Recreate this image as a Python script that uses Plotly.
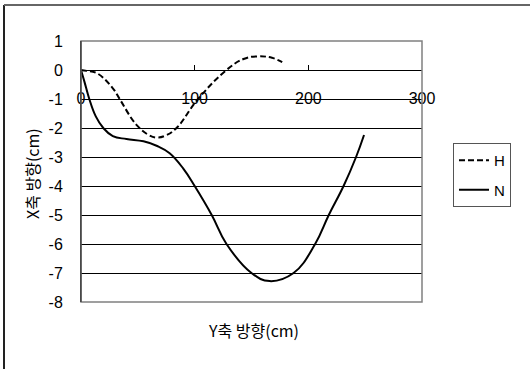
import plotly.graph_objects as go

# Lateral displacement profiles (cm)
h_y = [0, 5, 14, 28, 34, 49, 60, 67, 75, 84, 103, 128, 143, 155, 168, 177]
h_x = [0, -0.03, -0.11, -0.63, -1.0, -1.9, -2.25, -2.33, -2.25, -2.0, -1.0, 0.0, 0.38, 0.47, 0.42, 0.27]

n_y = [0, 3, 7.3, 13, 19.6, 28, 40, 55, 67, 78, 90, 100, 115, 128, 150, 166, 187, 206, 218, 231, 242, 249]
n_x = [0, -0.4, -1.0, -1.6, -2.0, -2.28, -2.38, -2.46, -2.62, -2.87, -3.4, -4.0, -5.0, -6.0, -7.0, -7.28,
       -7.0, -6.0, -5.0, -4.0, -3.0, -2.24]

x_ticks = [0, 100, 200, 300]
y_ticks = [1, 0, -1, -2, -3, -4, -5, -6, -7, -8]

W, H = 530, 369
ML, MR, MT, MB = 81, 108, 41, 67
pw = W - ML - MR
ph = H - MT - MB

tick_font = dict(family="Liberation Sans, Arial, sans-serif", size=16, color="black")
kr_font = dict(family="Noto Sans CJK KR, sans-serif", size=16, color="black")

fig = go.Figure()
fig.add_trace(go.Scatter(x=h_y, y=h_x, mode="lines", name="H", legendgroup="h",
                         line=dict(color="black", width=2, dash="6px,3px", shape="spline", smoothing=1.2)))
fig.add_trace(go.Scatter(x=n_y, y=n_x, mode="lines", name="N", legendgroup="n",
                         line=dict(color="black", width=2, shape="spline", smoothing=1.2)))

ymin, ymax = -8, 1
fig.update_layout(
    width=W, height=H,
    margin=dict(l=ML, r=MR, t=MT, b=MB, autoexpand=False),
    paper_bgcolor="white", plot_bgcolor="white",
    showlegend=True,
    legend=dict(x=(453 - ML) / pw, y=(H - MB - 143) / ph, xanchor="left", yanchor="top",
                bordercolor="#555555", borderwidth=1, bgcolor="white",
                font=dict(family="Liberation Sans, Arial, sans-serif", size=15, color="black"),
                traceorder="grouped", tracegroupgap=7),
    xaxis=dict(range=[0, 300], tickvals=x_ticks, ticktext=[str(v) for v in x_ticks],
               anchor="free", position=(0 - ymin) / (ymax - ymin), side="bottom",
               showline=True, linecolor="black", linewidth=1,
               ticks="inside", ticklen=5, tickcolor="black",
               ticklabelstandoff=14, tickfont=tick_font,
               showgrid=False, zeroline=False, fixedrange=True),
    yaxis=dict(range=[ymin, ymax], tickvals=y_ticks, ticktext=[str(v) for v in y_ticks],
               showline=True, linecolor="black", linewidth=1,
               ticks="", ticklabelstandoff=14, tickfont=tick_font,
               showgrid=True, gridcolor="black", gridwidth=1,
               zeroline=True, zerolinecolor="black", zerolinewidth=1, fixedrange=True),
)

# plot-area frame
fig.add_shape(type="rect", xref="paper", yref="paper", x0=0, x1=1, y0=0, y1=1,
              line=dict(color="#808080", width=1.5), layer="above")
fig.add_shape(type="line", xref="paper", yref="paper", x0=0, x1=0, y0=0, y1=1,
              line=dict(color="#333333", width=1), layer="above")

# chart border (top and left edges)
fx0 = (4 - ML) / pw
fy_top = 1 + (MT - 5) / ph
fig.add_shape(type="line", xref="paper", yref="paper", x0=fx0, x1=fx0, y0=-MB / ph - 0.05, y1=fy_top,
              line=dict(color="#222222", width=2), layer="above")
fig.add_shape(type="line", xref="paper", yref="paper", x0=fx0, x1=1 + MR / pw + 0.05, y0=fy_top, y1=fy_top,
              line=dict(color="#666666", width=2), layer="above")

# axis titles
fig.add_annotation(text="Y축 방향(cm)", xref="paper", yref="paper",
                   x=(253 - ML) / pw, y=-(330 - (H - MB)) / ph, xanchor="center", yanchor="middle",
                   showarrow=False, font=kr_font)
fig.add_annotation(text="X축 방향(cm)", xref="paper", yref="paper",
                   x=(32 - ML) / pw, y=(H - MB - 173) / ph, xanchor="center", yanchor="middle",
                   textangle=-90, showarrow=False, font=kr_font)

fig.write_html("out.html")
